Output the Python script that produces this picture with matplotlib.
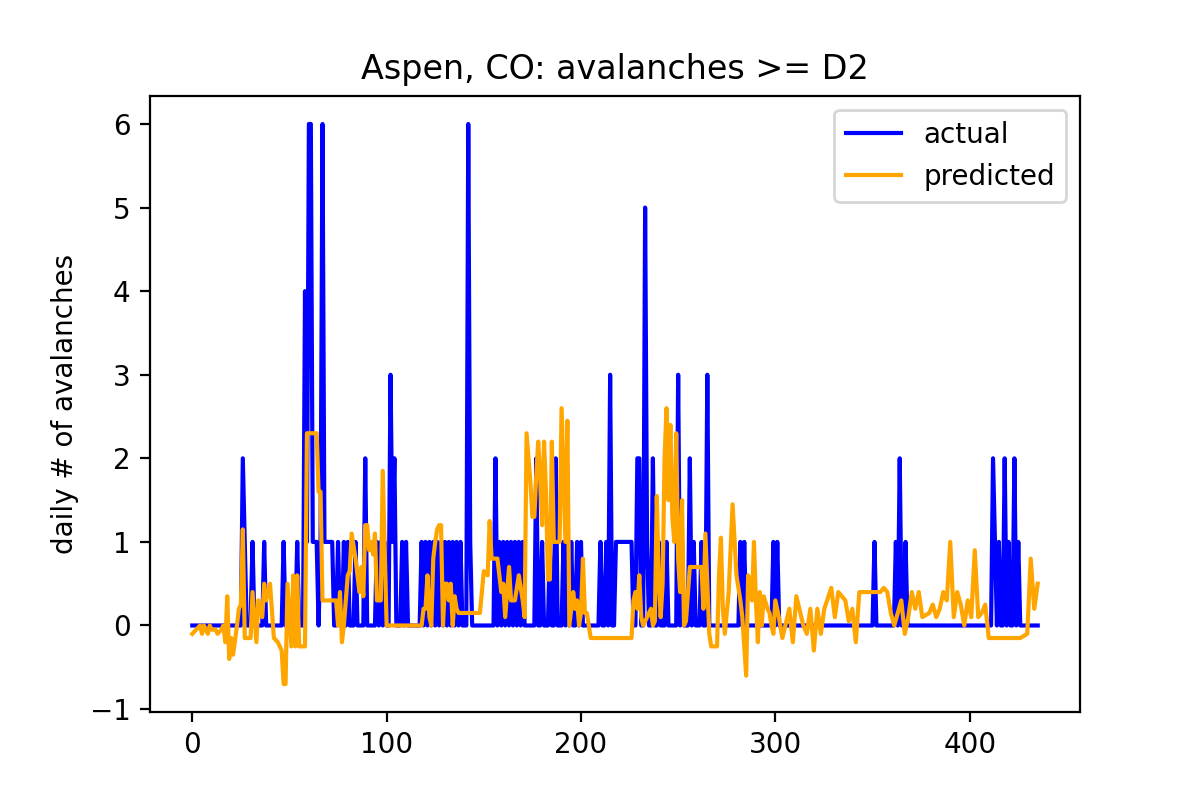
import matplotlib.pyplot as plt
import numpy as np

# actual: nonzero days (all other days are 0)
actual_days = [26, 27, 31, 37, 47, 54, 58, 59, 60, 61, 62, 63, 64, 66, 67, 68, 69, 70, 71, 72,
               75, 78, 80, 84, 89, 95, 97, 99, 102, 103, 104, 108, 110, 118, 120, 122, 124, 126,
               128, 130, 132, 134, 136, 138, 142, 143, 156, 158, 160, 162, 164, 166, 168, 170,
               177, 180, 184, 187, 191, 193, 195, 198, 200, 210, 213, 215, 218, 219, 220, 221,
               222, 223, 224, 225, 226, 229, 230, 233, 234, 237, 240, 244, 250, 252, 256, 258,
               262, 265, 282, 284, 299, 301, 351, 362, 364, 367, 412, 413, 415, 418, 420, 423, 425]
actual_vals = [2, 1, 1, 1, 1, 1, 4, 1, 6, 6, 1, 1, 1, 1, 6, 1, 1, 1, 1, 1,
               1, 1, 1, 1, 2, 1, 1, 1, 3, 1, 2, 1, 1, 1, 1, 1, 1, 1,
               1, 1, 1, 1, 1, 1, 6, 1, 2, 1, 1, 1, 1, 1, 1, 1,
               2, 1, 1, 2, 1, 1, 1, 1, 1, 1, 1, 3, 1, 1, 1, 1,
               1, 1, 1, 1, 1, 2, 2, 5, 1, 2, 1, 1, 3, 1, 2, 1,
               1, 3, 1, 1, 1, 1, 1, 1, 2, 1, 2, 1, 1, 2, 1, 2, 1]
n_days = 436
actual = np.zeros(n_days)
for d, v in zip(actual_days, actual_vals):
    actual[d] = v

# predicted: (day, value)
predicted = [
    (0, -0.1), (2, -0.05), (4, 0.0), (5, -0.1), (6, 0.0), (8, -0.1), (9, 0.0), (10, -0.05),
    (12, -0.05), (13, -0.1), (15, -0.05), (16, 0.0), (17, -0.2), (18, 0.35), (19, -0.4),
    (20, -0.15), (21, -0.35), (23, 0.0), (24, 0.2), (25, 0.25), (26, 1.15), (27, -0.15),
    (30, -0.15), (31, 0.4), (33, -0.2), (34, 0.3), (36, 0.1), (37, 0.5), (38, 0.3), (40, 0.5),
    (42, -0.15), (44, -0.2), (46, -0.3), (47, -0.7), (48, -0.7), (49, 0.5), (51, -0.25),
    (52, 0.6), (53, -0.25), (54, 0.6), (55, -0.25), (58, -0.25), (59, 2.3), (64, 2.3),
    (65, 1.6), (66, 1.6), (67, 0.3), (72, 0.3), (74, 0.3), (75, 0.0), (76, 0.4), (77, -0.2),
    (78, 0.0), (80, 0.6), (81, 0.65), (82, 1.1), (84, 0.8), (85, 0.6), (86, 0.4), (87, 0.7),
    (88, 0.35), (89, 1.2), (90, 1.2), (91, 0.9), (92, 1.0), (93, 0.85), (94, 1.1), (95, 0.3),
    (97, 0.3), (98, 1.85), (99, 0.9), (100, 0.0), (106, 0.0), (112, 0.0), (118, 0.0),
    (119, 0.2), (120, 0.2), (121, 0.6), (122, 0.1), (123, 0.0), (124, 0.8), (125, 1.0),
    (126, 1.15), (127, 1.2), (128, 1.2), (129, 0.0), (130, 0.5), (131, 0.5), (132, 0.3),
    (133, 0.5), (134, 0.0), (135, 0.35), (136, 0.2), (137, 0.15), (143, 0.15), (148, 0.15),
    (150, 0.65), (152, 0.6), (153, 1.25), (154, 0.8), (157, 0.8), (158, 0.6), (159, 0.4),
    (160, 0.5), (161, 0.1), (163, 0.7), (164, 0.3), (166, 0.3), (168, 0.6), (170, 0.3),
    (171, 0.1), (172, 2.3), (174, 1.7), (175, 1.3), (176, 1.3), (177, 1.8), (178, 2.2),
    (179, 1.8), (180, 1.2), (181, 2.2), (182, 1.6), (183, 0.55), (184, 0.55), (185, 2.2),
    (186, 1.0), (189, 1.0), (190, 2.6), (191, 1.8), (192, 1.0), (193, 2.45), (194, 0.0),
    (196, 0.4), (197, 0.2), (198, 0.3), (199, 0.0), (200, 0.15), (201, 0.8), (202, 0.15),
    (203, 0.15), (205, -0.15), (226, -0.15), (227, 0.3), (228, 0.4), (229, 0.2), (230, 0.6),
    (231, 0.1), (232, 0.0), (234, 0.1), (236, 0.2), (237, 0.0), (238, 0.05), (239, 1.55),
    (240, 0.6), (241, 0.1), (242, 0.5), (243, 2.0), (244, 2.6), (245, 1.5), (246, 2.4),
    (247, 1.3), (248, 1.0), (249, 2.3), (250, 0.8), (251, 0.4), (252, 1.5), (253, 0.0),
    (254, 0.05), (256, 0.7), (262, 0.7), (263, 0.2), (264, 1.1), (266, -0.1), (267, -0.25),
    (270, -0.25), (271, 0.6), (272, 1.05), (273, 0.2), (274, -0.1), (276, 0.4), (278, 1.45),
    (280, 0.6), (282, 0.3), (283, 0.1), (285, -0.6), (286, 0.6), (287, 0.5), (288, 0.3),
    (289, 1.0), (290, 0.3), (291, -0.2), (292, 0.4), (293, 0.0), (294, 0.35), (296, 0.2),
    (297, 0.15), (298, 0.0), (299, -0.1), (300, 0.3), (301, 0.1), (302, -0.15), (304, 0.2),
    (305, -0.2), (306, 0.35), (308, 0.0), (309, -0.1), (310, 0.2), (311, -0.3), (312, 0.2),
    (313, -0.1), (314, 0.2), (316, 0.45), (317, 0.1), (318, 0.4), (320, 0.3), (321, 0.05),
    (322, 0.2), (323, -0.2), (324, 0.4), (330, 0.4), (331, 0.45), (332, 0.4), (333, 0.15),
    (334, 0.0), (336, 0.3), (337, -0.1), (338, 0.1), (339, 0.4), (340, 0.2), (341, 0.4),
    (342, 0.1), (344, 0.15), (345, 0.25), (346, 0.1), (347, 0.2), (348, 0.4), (349, 0.3),
    (350, 1.0), (351, 0.1), (352, 0.4), (353, 0.25), (354, 0.0), (355, 0.3), (356, 0.1),
    (357, 0.9), (358, 0.1), (359, 0.15), (360, 0.25), (361, -0.15), (370, -0.15),
    (372, -0.1), (373, 0.8), (374, 0.2), (375, 0.5),
]
pred_days = [d for d, _ in predicted]
pred_vals = [v for _, v in predicted]
# the last ~60 days were read on a compressed scale; map them onto the full range
pred_days = [d if d <= 300 else 300 + (d - 300) * (435 - 300) / (375 - 300) for d in pred_days]

plt.figure(figsize=(6, 4), dpi=200)
plt.plot(np.arange(n_days), actual, color='blue', label='actual')
plt.plot(pred_days, pred_vals, color='orange', label='predicted')
plt.title("Aspen, CO: avalanches >= D2")
plt.ylabel("daily # of avalanches")
plt.legend()
plt.savefig("out.png")
